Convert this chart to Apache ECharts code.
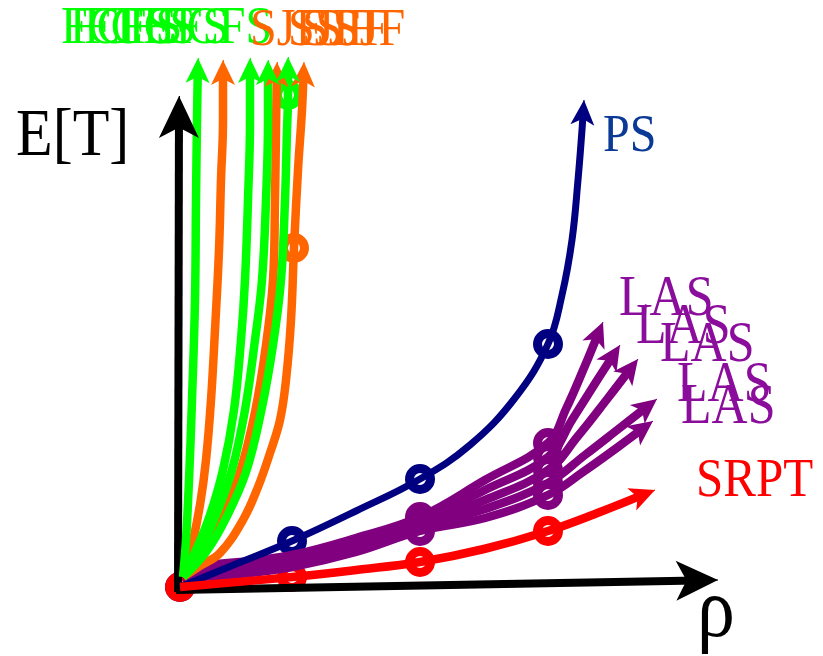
<!DOCTYPE html>
<html><head><meta charset="utf-8">
<script src="https://cdn.jsdelivr.net/npm/echarts@6/dist/echarts.min.js"></script>
<style>html,body{margin:0;padding:0;background:#fff}#c{width:823px;height:656px}</style>
</head><body><div id="c"></div>
<script>
// ---------- data (schematic units: ρ horizontally, E[T] vertically) ----------
const xAxisLine = [[-0.04,-0.03],[5.38,0.07]];
const yAxisLine = [[-0.02,-0.05],[-0.01,4.91]];

const psCurve   = [[0,0],[0.56,0.23],[1.12,0.46],[1.76,0.76],[2.40,1.08],[2.90,1.42],[3.35,1.89],[3.68,2.43],[3.82,2.92],[3.92,3.47],[3.98,4.07],[4.02,4.57],[4.04,4.87]];
const psMarks   = [[0,0],[1.12,0.46],[2.40,1.08],[3.68,2.43]];

const srptCurve = [[0,0],[1.12,0.10],[1.76,0.17],[2.40,0.25],[3.04,0.38],[3.68,0.56],[4.20,0.75],[4.75,0.97]];
const srptMarks = [[0,0],[1.12,0.10],[2.40,0.25],[3.68,0.56]];

const las1 = [[0.03,0.21],[0.60,0.25],[1.12,0.32],[1.76,0.49],[2.40,0.70],[3.05,1.07],[3.68,1.44],[3.86,1.78],[4.04,2.19],[4.23,2.65]];
const las2 = [[0.03,0.18],[0.60,0.22],[1.12,0.29],[1.76,0.45],[2.40,0.66],[3.05,0.97],[3.68,1.30],[3.92,1.67],[4.16,2.05],[4.40,2.42]];
const las3 = [[0.03,0.15],[0.60,0.19],[1.12,0.26],[1.76,0.41],[2.40,0.63],[3.05,0.87],[3.68,1.17],[3.98,1.51],[4.28,1.89],[4.58,2.28]];
const las4 = [[0.03,0.12],[0.60,0.16],[1.12,0.23],[1.76,0.38],[2.40,0.60],[3.05,0.78],[3.68,1.04],[4.05,1.32],[4.41,1.60],[4.77,1.88]];
const las5 = [[0.03,0.09],[0.60,0.13],[1.12,0.20],[1.76,0.35],[2.40,0.56],[3.05,0.69],[3.68,0.92],[4.03,1.15],[4.38,1.40],[4.73,1.66]];
const lasMarks = [[2.40,0.70],[2.40,0.66],[2.40,0.63],[2.40,0.60],[2.40,0.56],
                  [3.68,1.44],[3.68,1.30],[3.68,1.17],[3.68,1.04],[3.68,0.92]];

const fcfs1 = [[0.03,0.10],[0.06,0.47],[0.09,1.07],[0.12,1.87],[0.15,2.87],[0.16,3.87],[0.17,4.67],[0.18,5.29]];
const fcfs2 = [[0.03,0.10],[0.16,0.37],[0.30,0.72],[0.43,1.17],[0.54,1.77],[0.61,2.47],[0.65,3.07],[0.68,3.87],[0.70,4.67],[0.70,5.29]];
const fcfs3 = [[0.03,0.10],[0.20,0.37],[0.36,0.72],[0.52,1.17],[0.65,1.77],[0.75,2.47],[0.82,3.07],[0.86,3.87],[0.88,4.67],[0.88,5.27]];
const fcfs4 = [[0.03,0.10],[0.26,0.35],[0.46,0.69],[0.66,1.15],[0.81,1.75],[0.93,2.42],[1.01,3.07],[1.05,3.87],[1.07,4.57],[1.08,4.92],[1.08,5.30]];
const fcfsMarks = [[1.08,4.92]];

const sjf1 = [[0.03,0.10],[0.12,0.42],[0.20,0.82],[0.26,1.27],[0.31,1.87],[0.35,2.57],[0.39,3.37],[0.41,4.07],[0.43,4.67],[0.43,5.27]];
const sjf2 = [[0.03,0.10],[0.23,0.35],[0.42,0.69],[0.60,1.15],[0.75,1.75],[0.86,2.42],[0.93,3.07],[0.95,3.87],[0.96,4.57],[0.97,5.25]];
const sjf3 = [[0.03,0.10],[0.20,0.21],[0.40,0.34],[0.63,0.67],[0.78,1.00],[0.90,1.34],[1.00,1.67],[1.06,2.07],[1.11,2.67],[1.14,3.39],[1.18,4.17],[1.22,4.77],[1.24,5.25]];
const sjfMarks = [[1.14,3.39]];

// text labels: [text, anchor ρ, anchor E[T]] (anchor = left end of baseline)
const axisTexts = [['E[T]',-1.64,4.27],['ρ',5.17,-0.55]];
const psTexts   = [['PS',4.23,4.32]];
const srptTexts = [['SRPT',5.16,0.87]];
const lasTexts  = [['LAS',4.39,2.68],['LAS',4.56,2.40],['LAS',4.80,2.22],['LAS',4.97,1.82],['LAS',5.01,1.60]];
const fcfsTexts = [['FCFS',-1.19,5.40],['FCFS',-1.10,5.40],['FCFS',-0.96,5.40],['FCFS',-0.63,5.40],['FCFS',-0.20,5.40]];
const sjfTexts  = [['SJF',0.70,5.38],['SJF',1.08,5.38],['SJF',1.22,5.38],['SJF',1.36,5.38],['SJF',1.53,5.38]];

// ---------- chart ----------
const X_MIN=-1.80, X_MAX=6.43, Y_MIN=-0.69, Y_MAX=5.87;
const W=823;
const UNIT = W/(X_MAX-X_MIN); // px per unit (same both axes)
const SERIF = '"Liberation Serif", "Times New Roman", serif';

function curve(pts, color, width, arrowSize, smooth){
  const T = pts[pts.length-1], P = pts[pts.length-2];
  const dx=T[0]-P[0], dy=T[1]-P[1], L=Math.hypot(dx,dy);
  const ux=dx/L, uy=dy/L;
  const mid=arrowSize[1]*0.5/UNIT;
  const E=[T[0]-ux*mid, T[1]-uy*mid];            // line stops inside the arrow head
  const A=[T[0]-ux*mid*1.2, T[1]-uy*mid*1.2];
  const data = pts.slice(0,-1).concat([E]);
  return {
    type:'line', data, smooth:smooth, symbol:'none', silent:true, animation:false,
    lineStyle:{color, width, cap:'butt', join:'round'},
    markLine:{silent:true, animation:false, symbol:['none','arrow'], symbolSize:arrowSize,
      lineStyle:{color, width:1, type:'solid', cap:'butt'}, label:{show:false},
      emphasis:{disabled:true},
      data:[[{coord:A},{coord:T}]]}
  };
}
function marks(pts, color){
  return {type:'scatter', data:pts, symbol:'circle', symbolSize:21, silent:true, animation:false,
    itemStyle:{color:'#ffffff', borderColor:color, borderWidth:9, opacity:1}};
}

const C_GREEN='#00ff00', C_ORANGE='#ff6600', C_PURPLE='#800080', C_NAVY='#000080', C_RED='#ff0000';
const ARR=[18,25], LW=8.5, SM=0.4;

const series = [
  curve(xAxisLine,'#000000',8,[30,42],false),
  curve(yAxisLine,'#000000',8,[30,42],false),
  curve(las1,C_PURPLE,LW,ARR,SM), curve(las2,C_PURPLE,LW,ARR,SM), curve(las3,C_PURPLE,LW,ARR,SM),
  curve(las4,C_PURPLE,LW,ARR,SM), curve(las5,C_PURPLE,LW,ARR,SM),
  marks(lasMarks,C_PURPLE),
  curve(sjf1,C_ORANGE,LW,ARR,SM), curve(sjf2,C_ORANGE,LW,ARR,SM), curve(sjf3,C_ORANGE,LW,ARR,SM),
  curve(fcfs1,C_GREEN,LW,ARR,SM), curve(fcfs2,C_GREEN,LW,ARR,SM), curve(fcfs3,C_GREEN,LW,ARR,SM), curve(fcfs4,C_GREEN,LW,ARR,SM),
  marks(sjfMarks,C_ORANGE), marks(fcfsMarks,C_GREEN),
  curve(psCurve,C_NAVY,7,ARR,SM), marks(psMarks,C_NAVY),
  curve(srptCurve,C_RED,LW,ARR,SM), marks(srptMarks,C_RED)
];

const chart = echarts.init(document.getElementById('c'), null, {renderer:'canvas'});
chart.setOption({
  animation:false,
  backgroundColor:'#ffffff',
  grid:{left:0,right:0,top:0,bottom:0,containLabel:false},
  xAxis:{type:'value',min:X_MIN,max:X_MAX,show:false},
  yAxis:{type:'value',min:Y_MIN,max:Y_MAX,show:false},
  series
});

const SY=1.12;
function textEls(list, color, size){
  return list.map(([t,x,y])=>{
    const p = chart.convertToPixel({gridIndex:0},[x,y]);
    return {type:'text', x:p[0], y:p[1], scaleY:SY, z:50, silent:true,
      style:{text:t, x:0, y:-0.3375*size, fill:color, fontSize:size, fontFamily:SERIF,
             align:'left', verticalAlign:'middle'}};
  });
}
const graphic = [].concat(
  textEls([axisTexts[0]],'#000000',60),
  textEls([axisTexts[1]],'#000000',76),
  textEls(psTexts,'#0b3a96',48),
  textEls(srptTexts,'#ff0000',49),
  textEls(lasTexts,'#8b0d9b',50),
  textEls(fcfsTexts,'#00ff00',48),
  textEls(sjfTexts,'#ff6600',48)
);
chart.setOption({graphic});
</script></body></html>
